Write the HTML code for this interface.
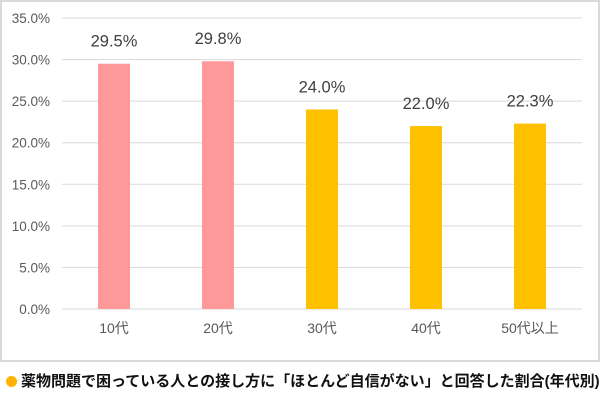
<!DOCTYPE html>
<html><head><meta charset="utf-8"><style>
body{margin:0;width:600px;height:406px;background:#fff;overflow:hidden;font-family:"Liberation Sans","Noto Sans CJK JP",sans-serif}
#frame{position:absolute;left:0;top:0;width:596px;height:358px;border:2px solid #d9d9d9;background:#fff}
#cap{position:absolute;left:6px;top:370px;font-size:15px;font-weight:bold;color:#111;white-space:nowrap;letter-spacing:0px}
#cap span{display:inline-block;width:11px;height:11px;border-radius:50%;background:#ffb300;margin-right:4px;vertical-align:-1px}
</style></head><body>
<div id="frame"></div>
<svg id="chart" width="600" height="406" style="position:absolute;left:0;top:0"></svg>
<div id="cap"><span></span>薬物問題で困っている人との接し方に「ほとんど自信がない」と回答した割合(年代別)</div>
<script>
const categories=["10代","20代","30代","40代","50代以上"];
const values=[29.5,29.8,24.0,22.0,22.3];
const colors=["#ff9999","#ff9999","#ffc000","#ffc000","#ffc000"];
const ticks=[0,5,10,15,20,25,30,35];
const svg=document.getElementById('chart');
const NS='http://www.w3.org/2000/svg';
const x0=62,x1=582,yTop=18,yBot=309,vmax=35;
const y=v=>yBot-(v/vmax)*(yBot-yTop);
const bw=(x1-x0)/categories.length;
const xc=i=>x0+bw*(i+0.5);
function mk(t,a){const e=document.createElementNS(NS,t);for(const k in a)e.setAttribute(k,a[k]);svg.appendChild(e);return e;}
ticks.forEach(t=>{
 const l=mk('line',{x1:x0,x2:x1,y1:y(t),y2:y(t),stroke:'#d9d9d9','stroke-width':1});
 
 
 const tx=mk('text',{x:50,y:y(t)+5,'text-anchor':'end','font-size':13.5,fill:'#595959','font-family':'Liberation Sans,sans-serif'});
 tx.textContent=t.toFixed(1)+'%';
 
 
});
categories.forEach((c,i)=>{
 const w=32;
 const r=mk('rect',{x:xc(i)-w/2,y:y(values[i]),width:w,height:yBot-y(values[i]),fill:colors[i]});
 
 
 const v=mk('text',{x:xc(i),y:y(values[i])-17,'text-anchor':'middle','font-size':16.5,fill:'#404040','font-family':'Liberation Sans,sans-serif'});
 v.textContent=values[i].toFixed(1)+'%';
 
 
 const cl=mk('text',{x:xc(i),y:y(0)+24,'text-anchor':'middle','font-size':14,fill:'#595959','font-family':'Liberation Sans,Noto Sans CJK JP,sans-serif'});
 cl.textContent=c;
 
 
});
</script>
</body></html>
